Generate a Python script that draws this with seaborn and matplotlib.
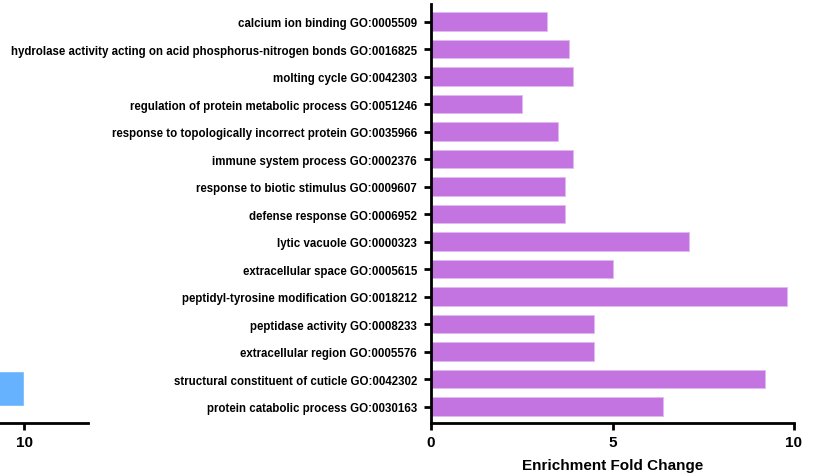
import matplotlib

matplotlib.use("Agg")
import matplotlib.pyplot as plt
import pandas as pd
import seaborn as sns

sns.set_theme(style="white")
plt.rcParams["font.family"] = ["Liberation Sans", "DejaVu Sans"]
plt.rcParams["font.weight"] = "bold"
plt.rcParams["text.color"] = "black"
plt.rcParams["axes.labelcolor"] = "black"
plt.rcParams["xtick.color"] = "black"
plt.rcParams["ytick.color"] = "black"

# GO terms (top to bottom) and enrichment fold change
terms = [
    "calcium ion binding GO:0005509",
    "hydrolase activity acting on acid phosphorus-nitrogen bonds GO:0016825",
    "molting cycle GO:0042303",
    "regulation of protein metabolic process GO:0051246",
    "response to topologically incorrect protein GO:0035966",
    "immune system process GO:0002376",
    "response to biotic stimulus GO:0009607",
    "defense response GO:0006952",
    "lytic vacuole GO:0000323",
    "extracellular space GO:0005615",
    "peptidyl-tyrosine modification GO:0018212",
    "peptidase activity GO:0008233",
    "extracellular region GO:0005576",
    "structural constituent of cuticle GO:0042302",
    "protein catabolic process GO:0030163",
]
fold_change = [3.2, 3.8, 3.9, 2.5, 3.5, 3.9, 3.7, 3.7, 7.1, 5.0, 9.8, 4.5, 4.5, 9.2, 6.4]

# partly visible neighbouring panel (cropped on the left)
left_terms = [""]
left_values = [10]

xticks = [0, 5, 10]

df = pd.DataFrame({"term": terms, "fold": fold_change})
df_left = pd.DataFrame({"term": left_terms, "fold": left_values})

W, H = 820, 477
fig = plt.figure(figsize=(W / 100, H / 100), dpi=100)


def px_axes(x0, x1, y0, y1):
    return fig.add_axes([x0 / W, 1 - y1 / H, (x1 - x0) / W, (y1 - y0) / H])


def style_axis(ax):
    sns.despine(ax=ax)
    for s in ["left", "bottom"]:
        ax.spines[s].set_linewidth(2)
        ax.spines[s].set_color("black")
    ax.tick_params(axis="both", direction="out", length=5, width=2, color="black",
                   labelcolor="black", bottom=True, left=True)
    ax.tick_params(axis="x", labelsize=11, pad=4)
    ax.tick_params(axis="y", labelsize=8.3, pad=5)


# left panel, mostly outside the figure (drawn first, transparent)
ax2 = px_axes(-339, 88, 5, 424)
ax2.patch.set_alpha(0)
sns.barplot(data=df_left, x="fold", y="term", color="#66B2FF", saturation=1,
            width=1.0, ax=ax2)
ax2.set_xlim(0, 11.76)
ax2.set_ylim(0.986, -10.986)
ax2.set_xticks([10])
ax2.set_yticks([])
ax2.set_xlabel("")
ax2.set_ylabel("")
style_axis(ax2)
ax2.spines["left"].set_visible(False)
for lab in ax2.get_xticklabels():
    lab.set_fontweight("bold")

# main panel
ax = px_axes(431, 794, 5, 424)
ax.patch.set_alpha(0)
sns.barplot(data=df, x="fold", y="term", color="#C474E0", saturation=1,
            width=0.67, edgecolor="#E2B8F0", linewidth=0.6, ax=ax)
ax.set_xlim(0, 10)
ax.set_ylim(14.6, -0.64)
ax.set_xticks(xticks)
ax.set_xlabel("Enrichment Fold Change", fontsize=11, fontweight="bold",
              labelpad=6, color="black")
ax.set_ylabel("")
style_axis(ax)
for lab in ax.get_yticklabels() + ax.get_xticklabels():
    lab.set_fontweight("bold")

fig.savefig("out.png", dpi=100)
